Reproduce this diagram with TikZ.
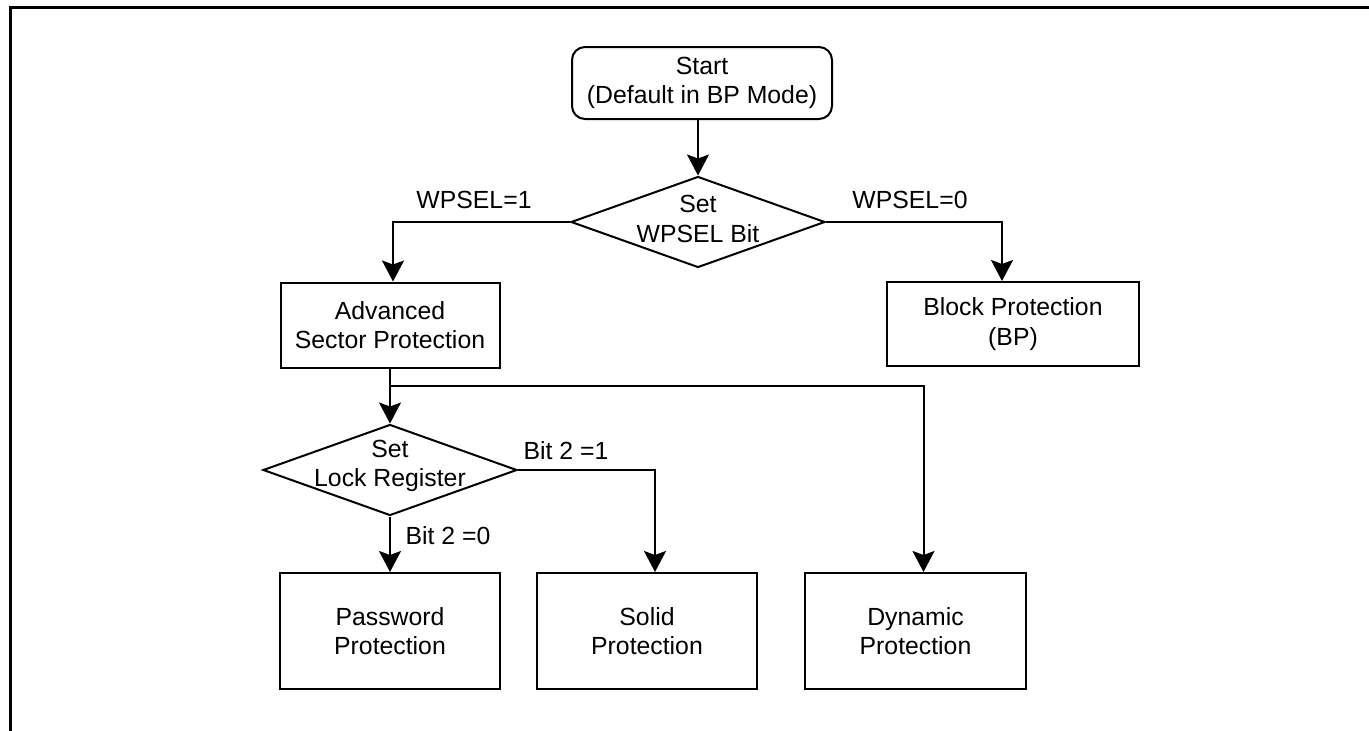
\documentclass[tikz,border=0pt]{standalone}
\usepackage{fontspec}
\setmainfont{Liberation Sans}
\usetikzlibrary{arrows.meta,shapes.geometric}
\tikzset{
  >={Stealth[length=21pt,width=22pt,inset=4pt]},
  box/.style={draw,line width=2pt,minimum width=#1,align=center,inner sep=0pt},
  box/.default=220pt,
  start box/.style={box=260pt,rounded corners=13pt,minimum height=72pt},
  decision/.style={diamond,draw,line width=2pt,minimum width=254pt,minimum height=91pt,inner sep=0pt},
  flow/.style={->,line width=2pt},
  tag/.style={align=center,inner sep=0pt},
}

\begin{document}
\begin{tikzpicture}[x=1pt,y=-1pt,font=\fontsize{24.8}{29.5}\selectfont]
  \useasboundingbox (0,0) rectangle (1369,731);
  % frame
  \draw[line width=2.6pt] (10.5,731) -- (10.5,7.5) -- (1369,7.5);
  % top part
  \node[start box] (start) at (702,83) {Start\\(Default in BP Mode)};
  \node[decision] (wpsel) at (698,222) {};
  \node[tag] (wpseltxt) at (698,219) {Set\\WPSEL Bit};
  \node[box,minimum width=219pt,minimum height=85pt] (adv) at (390,325) {Advanced\\Sector Protection};
  \node[box=252pt,minimum height=84pt] (bp) at (1013,324) {Block Protection\\(BP)};
  \draw[flow] (wpsel.north |- start.south) -- (wpsel.north);
  \draw[flow] (wpsel.west) -| ([xshift=3pt]adv.north);
  \draw[flow] (wpsel.east) -| ([xshift=-11pt]bp.north);
  \node[tag] (sel1) at (474,200) {WPSEL=1};
  \node[tag] (sel0) at (910,200) {WPSEL=0};
  % lock register
  \node[decision] (lock) at (390,470) {};
  \node[tag] (locktxt) at (390,466) {Set\\Lock Register};
  \coordinate (split) at (390,386);
  \node[box,minimum height=116pt] (pw) at (390,631) {Password\\Protection};
  \node[box,minimum height=116pt] (solid) at (647,631) {Solid\\Protection};
  \node[box=221pt,minimum height=116pt] (dyn) at (915.5,631) {Dynamic\\Protection};
  \draw[flow] (adv.south) -- (lock.north);
  \draw[flow] (split) -| ([xshift=8pt]dyn.north);
  \draw[flow] (lock.east) -| ([xshift=8pt]solid.north);
  \draw[flow] (lock.south) -- (pw.north);
  \node[tag] (bit1) at (566,451) {Bit 2 =1};
  \node[tag] (bit0) at (448,536) {Bit 2 =0};
\end{tikzpicture}
\end{document}
